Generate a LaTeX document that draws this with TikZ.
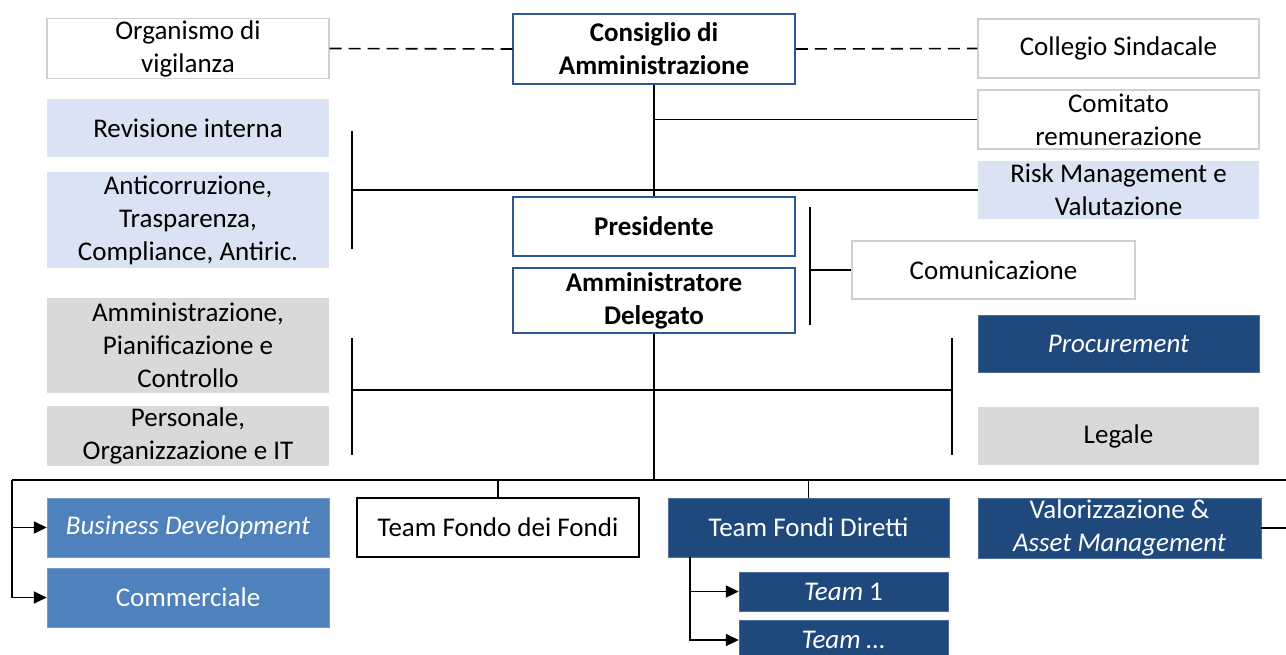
\documentclass[tikz,border=0pt]{standalone}
\usepackage{fontspec}
\setmainfont{Carlito}
\usepackage{tikz}
\usetikzlibrary{arrows.meta, positioning, calc}
\definecolor{headblue}{RGB}{47,85,151}
\definecolor{lightblue}{RGB}{218,227,243}
\definecolor{midgray}{RGB}{217,217,217}
\definecolor{bordergray}{RGB}{208,208,208}
\definecolor{darkblue}{RGB}{31,73,125}
\definecolor{medblue}{RGB}{79,129,189}

\begin{document}
\begin{tikzpicture}[
    x=1pt, y=-1pt,
    box/.style={rectangle, minimum width=282pt, minimum height=59pt, align=center,
        inner sep=2pt, font=\fontsize{27}{33}\selectfont},
    whitebox/.style={box, draw=bordergray, line width=1.2pt, fill=white},
    headbox/.style={box, draw=headblue, line width=1.5pt, fill=white,
        font=\fontsize{27}{33}\selectfont\bfseries},
    lightbox/.style={box, fill=lightblue},
    graybox/.style={box, fill=midgray},
    darkbox/.style={box, fill=darkblue, draw=darkblue!80, text=white},
    medbox/.style={box, fill=medblue, draw=medblue!80, text=white},
    link/.style={line width=1.6pt},
    arrowlink/.style={link, -{Triangle[length=13pt,width=12pt]}}
]
    \useasboundingbox (0,0) rectangle (1286,654);

    % governance
    \node[whitebox] (odv) at (188,48.5) {Organismo di\\vigilanza};
    \node[headbox, minimum height=70pt] (cda) at (654,49) {Consiglio di\\Amministrazione};
    \node[whitebox, minimum width=281pt] (cs) at (1118.5,48.5) {Collegio Sindacale};
    \node[lightbox, minimum height=58pt] (rev) at (188,128) {Revisione interna};
    \node[lightbox, minimum height=96pt] (anti) at (188,220) {Anticorruzione,\\Trasparenza,\\Compliance, Antiric.};
    \node[whitebox, minimum width=281pt] (crem) at (1118.5,119.5) {Comitato\\remunerazione};
    \node[lightbox, minimum width=281pt, minimum height=58pt] (risk) at (1118.5,190) {Risk Management e\\Valutazione};

    \node[headbox] (pres) at (654,226.5) {Presidente};
    \node[headbox, minimum height=65pt] (ad) at (654,300.5) {Amministratore\\Delegato};
    \node[whitebox, minimum width=283pt, minimum height=58pt] (com) at (993.5,270) {Comunicazione};

    % staff
    \node[graybox, minimum height=95pt] (apc) at (188,345.5) {Amministrazione,\\Pianificazione e\\Controllo};
    \node[graybox, minimum height=58pt] (pers) at (188,436) {Personale,\\Organizzazione e IT};
    \node[darkbox, minimum width=281pt, minimum height=57pt] (proc) at (1118.5,343.5) {\itshape Procurement};
    \node[graybox, minimum width=281pt, minimum height=58pt] (leg) at (1118.5,436) {Legale};

    % line
    \node[medbox] (bd) at (188,527.5) {\itshape Business Development};
    \node[medbox] (comm) at (188,597.5) {Commerciale};
    \node[whitebox, draw=black] (tff) at (498,527.5) {Team Fondo dei Fondi};
    \node[darkbox, minimum width=281pt] (tfd) at (808.5,527.5) {Team Fondi Diretti};
    \node[darkbox, minimum width=283pt, minimum height=60pt] (val) at (1119.5,528) {Valorizzazione \&\\\textit{Asset Management}};
    \node[darkbox, minimum width=209pt, minimum height=39pt] (t1) at (843.5,591.5) {\textit{Team} 1};
    \node[darkbox, minimum width=209pt, minimum height=40pt] (tx) at (843.5,640) {\textit{Team \dots}};

    \coordinate (lbar1t) at (352,131);
    \coordinate (lbar1b) at (352,249);
    \coordinate (cbt) at (810,207);
    \coordinate (cbb) at (810,325);
    \coordinate (lbar2t) at (352,338);
    \coordinate (lbar2b) at (352,455);
    \coordinate (rbar2t) at (952,338);
    \coordinate (rbar2b) at (952,455);
    \coordinate (staff) at (654,390);
    \coordinate (busl) at (12,480);
    \coordinate (busr) at (1286,480);
    \coordinate (vale) at (1286,528);
    \coordinate (tb) at (690,557);

    \draw[link, dashed, dash pattern=on 12pt off 7pt] (odv.east) -- (cda.west);
    \draw[link, dashed, dash pattern=on 12pt off 7pt] (cda.east) -- (cs.west);
    \draw[link] (cda.south) -- (pres.north);
    \draw[link] (cda.south |- crem.west) -- (crem.west);
    \draw[link] (lbar1t) -- (lbar1b);
    \draw[link] (lbar1t |- risk.west) -- (risk.west);
    \draw[link] (cbt) -- (cbb);
    \draw[link] (cbt |- com.west) -- (com.west);

    \draw[link] (ad.south) -- (ad.south |- busl);
    \draw[link] (lbar2t) -- (lbar2b);
    \draw[link] (rbar2t) -- (rbar2b);
    \draw[link] (lbar2t |- staff) -- (rbar2t |- staff);

    \draw[link] (busl) -- (busr);
    \draw[arrowlink] (busl) |- (bd.west);
    \draw[arrowlink] (busl) |- (comm.west);
    \draw[link] (tff.north |- busl) -- (tff.north);
    \draw[link] (tfd.north |- busl) -- (tfd.north);
    \draw[link] (val.east) -- (vale);
    \draw[arrowlink] (tb) |- (t1.west);
    \draw[arrowlink] (tb) |- (tx.west);
\end{tikzpicture}
\end{document}
